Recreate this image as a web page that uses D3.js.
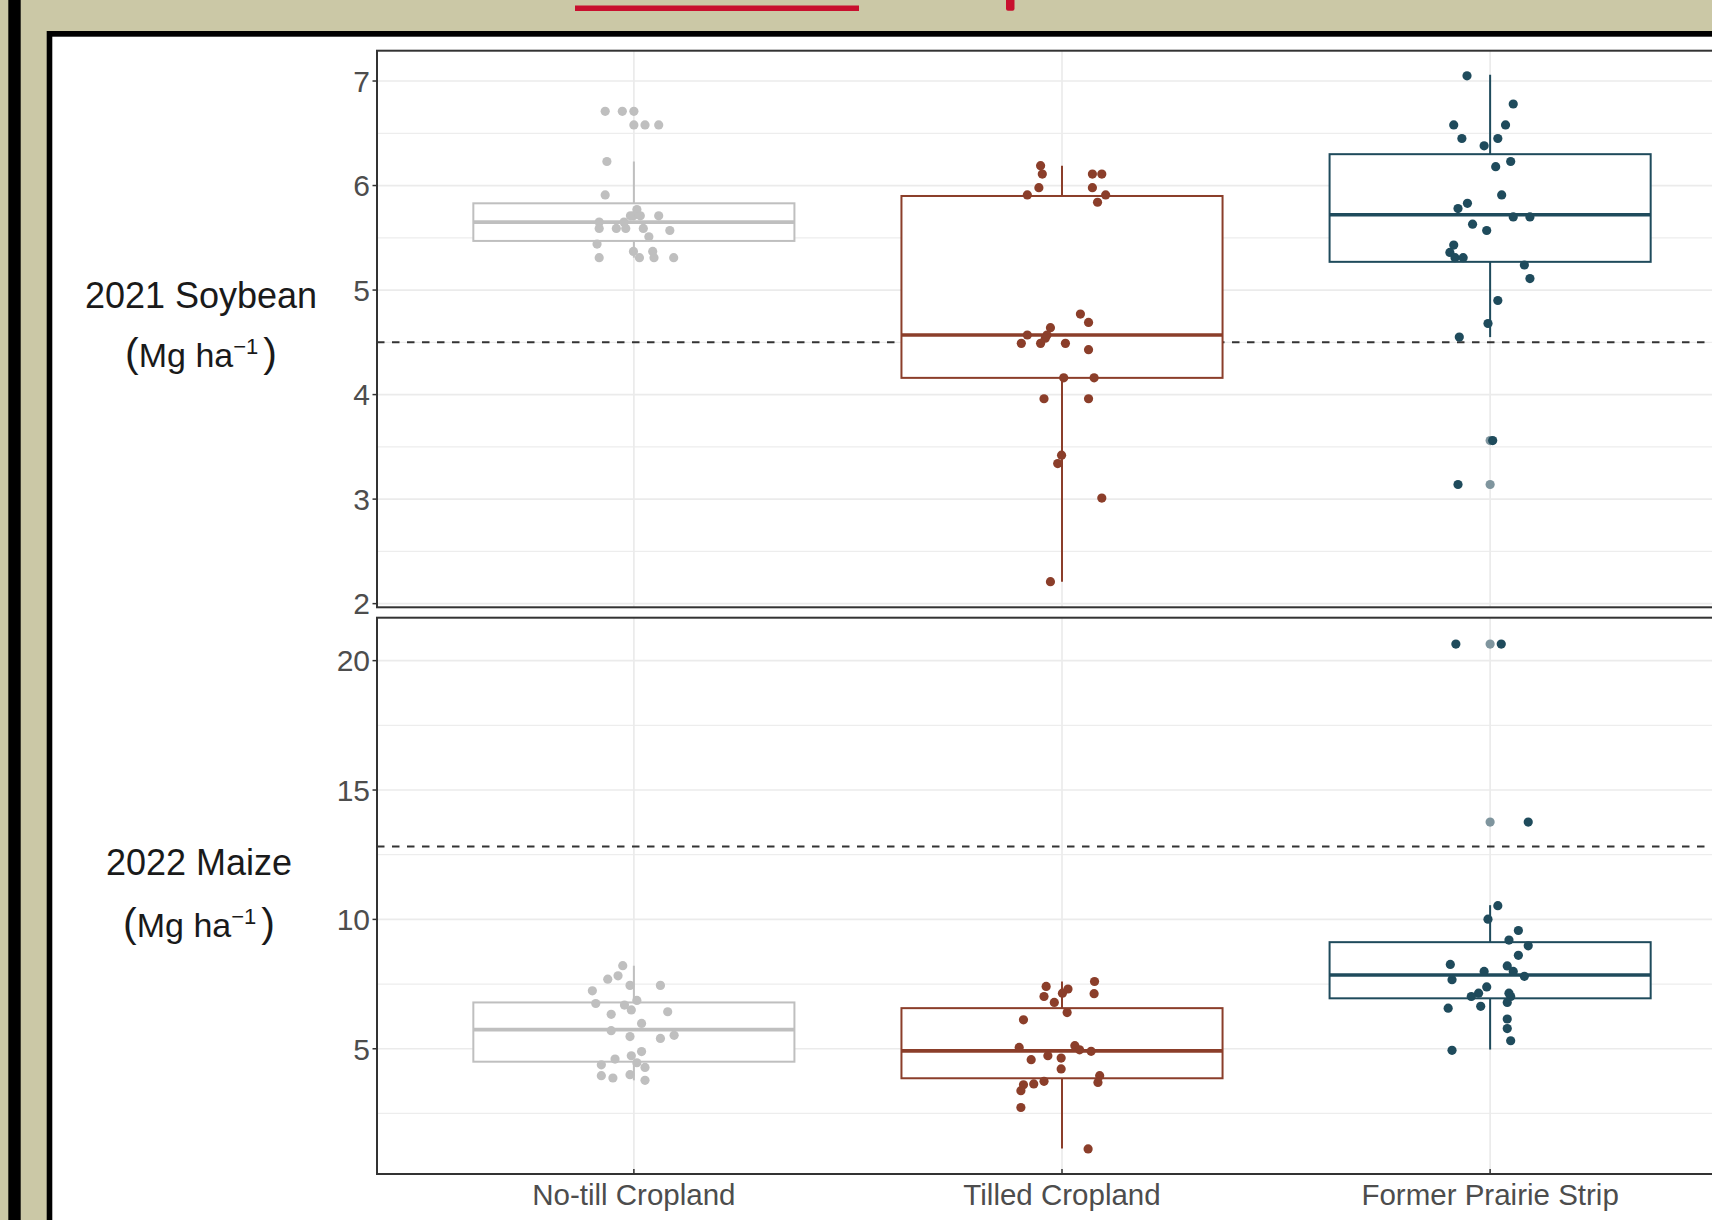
<!DOCTYPE html>
<html><head><meta charset="utf-8">
<script src="https://cdn.jsdelivr.net/npm/d3@7"></script>
<style>html,body{margin:0;padding:0;overflow:hidden;background:#CBC8A6}</style>
</head><body><svg id="c" width="1712" height="1220"></svg>
<script>
// ---------------- DATA ----------------
const categories = ["No-till Cropland", "Tilled Cropland", "Former Prairie Strip"];
const panelTitles = ["2021 Soybean", "2022 Maize"];

const soyTicks = [2, 3, 4, 5, 6, 7];
const soyMinor = [2.5, 3.5, 4.5, 5.5, 6.5];
const maizeTicks = [5, 10, 15, 20];
const maizeMinor = [2.5, 7.5, 12.5, 17.5];

const soyDomain = [1.965, 7.29];
const maizeDomain = [0.16, 21.66];

const soyReference = 4.50;
const maizeReference = 12.82;

// box statistics [No-till, Tilled, Prairie]
const soyQ1 = [5.47, 4.16, 5.27];
const soyMedian = [5.65, 4.57, 5.72];
const soyQ3 = [5.83, 5.90, 6.30];
const soyWhiskerLow = [5.31, 2.21, 4.55];
const soyWhiskerHigh = [6.23, 6.19, 7.06];
const soyOutliers = [[6.71, 6.58], [], [3.56, 3.14]];

const maizeQ1 = [4.50, 3.86, 6.95];
const maizeMedian = [5.74, 4.92, 7.85];
const maizeQ3 = [6.79, 6.57, 9.12];
const maizeWhiskerLow = [3.78, 1.15, 4.97];
const maizeWhiskerHigh = [8.21, 7.60, 10.55];
const maizeOutliers = [[], [], [20.64, 13.76]];

// observations (yield) and horizontal jitter (in category units)
const soyNoTillY =   [6.71, 6.71, 6.58, 6.58, 6.23, 5.91, 5.77, 5.71, 5.71, 5.71, 5.71, 5.65, 5.65, 5.59, 5.59, 5.59, 5.59, 5.57, 5.51, 5.44, 5.37, 5.37, 5.31, 5.31, 5.31, 5.31];
const soyNoTillJit = [-0.067, -0.027, 0.026, 0.058, -0.063, -0.067, 0.007, -0.001, -0.008, 0.015, 0.058, -0.081, -0.023, -0.081, -0.041, -0.019, 0.022, 0.084, 0.035, -0.086, -0.001, 0.044, -0.081, 0.013, 0.047, 0.093];

const soyTilledY =   [6.19, 6.11, 5.98, 5.91, 6.11, 6.11, 5.98, 5.91, 5.84, 4.77, 4.69, 4.64, 4.57, 4.57, 4.54, 4.49, 4.49, 4.49, 4.43, 4.16, 4.16, 3.96, 3.96, 3.42, 3.34, 3.01, 2.21];
const soyTilledJit = [-0.050, -0.046, -0.054, -0.081, 0.071, 0.093, 0.071, 0.102, 0.083, 0.043, 0.062, -0.027, -0.081, -0.035, -0.039, -0.095, -0.050, 0.008, 0.062, 0.004, 0.075, -0.042, 0.062, -0.001, -0.010, 0.093, -0.027];

const soyPrairieY =   [7.05, 6.78, 6.58, 6.58, 6.45, 6.45, 6.38, 6.23, 6.18, 5.91, 5.83, 5.78, 5.70, 5.70, 5.63, 5.57, 5.43, 5.36, 5.31, 5.31, 5.24, 5.11, 4.90, 4.68, 4.55, 3.56, 3.14];
const soyPrairieJit = [-0.054, 0.054, -0.085, 0.036, -0.066, 0.018, -0.014, 0.048, 0.013, 0.027, -0.053, -0.075, 0.054, 0.093, -0.041, -0.008, -0.085, -0.094, -0.082, -0.063, 0.080, 0.093, 0.018, -0.005, -0.072, 0.006, -0.075];

const maizeNoTillY =   [8.21, 7.82, 7.69, 7.45, 7.45, 7.24, 6.87, 6.75, 6.69, 6.50, 6.43, 6.33, 5.98, 5.70, 5.52, 5.47, 5.40, 4.89, 4.73, 4.60, 4.46, 4.38, 4.28, 3.96, 3.87, 4.00, 3.78];
const maizeNoTillJit = [-0.026, -0.037, -0.061, -0.009, 0.062, -0.097, 0.007, -0.089, -0.022, -0.006, 0.079, -0.053, 0.018, -0.053, 0.094, -0.009, 0.062, 0.018, -0.006, -0.044, 0.007, -0.076, 0.026, -0.076, -0.049, -0.009, 0.026];

const maizeTilledY =   [7.60, 7.41, 7.31, 7.15, 7.13, 7.02, 6.79, 6.40, 6.12, 5.05, 5.12, 4.96, 4.90, 4.73, 4.64, 4.58, 4.22, 3.96, 3.70, 3.74, 3.64, 3.61, 3.38, 2.73, 1.13];
const maizeTilledJit = [0.076, -0.037, 0.014, 0.001, 0.075, -0.042, -0.018, 0.012, -0.090, -0.100, 0.030, 0.041, 0.068, -0.033, -0.002, -0.072, -0.002, 0.088, 0.084, -0.042, -0.066, -0.090, -0.096, -0.096, 0.061];

const maizePrairieY =   [20.64, 20.64, 13.76, 10.53, 10.01, 9.57, 9.20, 8.98, 8.61, 8.26, 8.20, 7.99, 7.99, 7.67, 7.80, 7.39, 7.15, 7.02, 7.15, 7.02, 6.79, 6.57, 6.64, 6.15, 5.78, 5.31, 4.94];
const maizePrairieJit = [-0.080, 0.026, 0.089, 0.018, -0.005, 0.066, 0.044, 0.089, 0.066, -0.093, 0.040, -0.014, 0.054, -0.089, 0.080, -0.008, -0.027, -0.044, 0.044, 0.048, 0.040, -0.098, -0.022, 0.040, 0.040, 0.048, -0.089];

// ---------------- STYLE ----------------
const colors = ["#BFBFBF", "#8B3E2A", "#1F4B5C"];
const outlierColors = ["#BFBFBF", "#A56F60", "#7F959E"];
const FONT = "'Liberation Sans', Arial, sans-serif";

const svg = d3.select("#c");

// page decoration
svg.append("rect").attr("x", 0).attr("y", 0).attr("width", 1712).attr("height", 1220).attr("fill", "#CBC8A6");
svg.append("rect").attr("x", 8.3).attr("y", 0).attr("width", 12.4).attr("height", 1220).attr("fill", "#000");
svg.append("rect").attr("x", 575).attr("y", 5.5).attr("width", 284).attr("height", 5.5).attr("fill", "#C8102E");
svg.append("rect").attr("x", 1006).attr("y", -4).attr("width", 8.5).attr("height", 14.7).attr("rx", 2).attr("fill", "#C8102E");
svg.append("rect").attr("x", 46.7).attr("y", 31).attr("width", 2000).attr("height", 2000).attr("fill", "#000");
svg.append("rect").attr("x", 52.3).attr("y", 36.7).attr("width", 2000).attr("height", 2000).attr("fill", "#fff");

// scales
const x = d3.scalePoint().domain(categories).range([377, 1747]).padding(0.6);
const step = x.step();
const boxW = 0.75 * step;

const panels = [
  { title: panelTitles[0], top: 50.7, bottom: 607.3, domain: soyDomain, ticks: soyTicks, minor: soyMinor,
    ref: soyReference, q1: soyQ1, med: soyMedian, q3: soyQ3, lo: soyWhiskerLow, hi: soyWhiskerHigh, out: soyOutliers,
    pts: [[soyNoTillY, soyNoTillJit], [soyTilledY, soyTilledJit], [soyPrairieY, soyPrairieJit]],
    titleY: 308, unitY: 367, titleX: 201, xlabels: false },
  { title: panelTitles[1], top: 617.7, bottom: 1174, domain: maizeDomain, ticks: maizeTicks, minor: maizeMinor,
    ref: maizeReference, q1: maizeQ1, med: maizeMedian, q3: maizeQ3, lo: maizeWhiskerLow, hi: maizeWhiskerHigh, out: maizeOutliers,
    pts: [[maizeNoTillY, maizeNoTillJit], [maizeTilledY, maizeTilledJit], [maizePrairieY, maizePrairieJit]],
    titleY: 875, unitY: 937, titleX: 199, xlabels: true }
];

const L = 377, R = 1747;

panels.forEach(p => {
  const y = d3.scaleLinear().domain(p.domain).range([p.bottom, p.top]);
  const g = svg.append("g");

  // minor grid
  g.selectAll(".mg").data(p.minor).join("line")
    .attr("x1", L).attr("x2", R).attr("y1", d => y(d)).attr("y2", d => y(d))
    .attr("stroke", "#EDEDED").attr("stroke-width", 1.2);
  // major grid
  g.selectAll(".Mg").data(p.ticks).join("line")
    .attr("x1", L).attr("x2", R).attr("y1", d => y(d)).attr("y2", d => y(d))
    .attr("stroke", "#EBEBEB").attr("stroke-width", 1.7);
  // vertical grid
  g.selectAll(".vg").data(categories).join("line")
    .attr("x1", d => x(d)).attr("x2", d => x(d)).attr("y1", p.top).attr("y2", p.bottom)
    .attr("stroke", "#EBEBEB").attr("stroke-width", 1.7);

  // reference dashed line
  g.append("line").attr("x1", L).attr("x2", R).attr("y1", y(p.ref)).attr("y2", y(p.ref))
    .attr("stroke", "#333").attr("stroke-width", 2).attr("stroke-dasharray", "7.5,7.5");

  // boxplots
  categories.forEach((c, i) => {
    const cx = x(c);
    const col = colors[i];
    g.append("line").attr("x1", cx).attr("x2", cx).attr("y1", y(p.q3[i])).attr("y2", y(p.hi[i]))
      .attr("stroke", col).attr("stroke-width", 2);
    g.append("line").attr("x1", cx).attr("x2", cx).attr("y1", y(p.q1[i])).attr("y2", y(p.lo[i]))
      .attr("stroke", col).attr("stroke-width", 2);
    g.append("rect").attr("x", cx - boxW / 2).attr("y", y(p.q3[i])).attr("width", boxW)
      .attr("height", y(p.q1[i]) - y(p.q3[i])).attr("fill", "#fff").attr("stroke", col).attr("stroke-width", 2);
    g.append("line").attr("x1", cx - boxW / 2).attr("x2", cx + boxW / 2).attr("y1", y(p.med[i])).attr("y2", y(p.med[i]))
      .attr("stroke", col).attr("stroke-width", 3.6);
    // outliers
    g.selectAll(null).data(p.out[i]).join("circle")
      .attr("cx", cx).attr("cy", d => y(d)).attr("r", 4.6).attr("fill", outlierColors[i]);
  });

  // jittered points
  categories.forEach((c, i) => {
    const [vals, jit] = p.pts[i];
    g.selectAll(null).data(vals.map((v, k) => [v, jit[k]])).join("circle")
      .attr("cx", d => x(c) + d[1] * step).attr("cy", d => y(d[0])).attr("r", 4.6).attr("fill", colors[i]);
  });

  // panel border
  g.append("rect").attr("x", L).attr("y", p.top).attr("width", R - L).attr("height", p.bottom - p.top)
    .attr("fill", "none").attr("stroke", "#333").attr("stroke-width", 2);

  // y ticks
  g.selectAll(".yt").data(p.ticks).join("line")
    .attr("x1", L - 4.5).attr("x2", L).attr("y1", d => y(d)).attr("y2", d => y(d))
    .attr("stroke", "#333").attr("stroke-width", 1.5);
  g.selectAll(".yl").data(p.ticks).join("text")
    .attr("x", L - 7).attr("y", d => y(d)).attr("dy", "0.36em")
    .attr("text-anchor", "end").attr("font-family", FONT).attr("font-size", 30).attr("fill", "#4D4D4D")
    .text(d => d);

  // x ticks & labels
  if (p.xlabels) {
    g.selectAll(".xt").data(categories).join("line")
      .attr("x1", d => x(d)).attr("x2", d => x(d)).attr("y1", p.bottom).attr("y2", p.bottom - 5)
      .attr("stroke", "#333").attr("stroke-width", 1.5);
    g.selectAll(".xl").data(categories).join("text")
      .attr("x", d => x(d)).attr("y", 1205)
      .attr("text-anchor", "middle").attr("font-family", FONT).attr("font-size", 29.5).attr("fill", "#4D4D4D")
      .text(d => d);
  }

  // panel titles
  g.append("text").attr("x", p.titleX).attr("y", p.titleY).attr("text-anchor", "middle")
    .attr("font-family", FONT).attr("font-size", 36).attr("fill", "#1A1A1A").text(p.title);
  const u = g.append("text").attr("x", p.titleX).attr("y", p.unitY).attr("text-anchor", "middle")
    .attr("font-family", FONT).attr("fill", "#1A1A1A");
  u.append("tspan").attr("font-size", 41).text("(");
  u.append("tspan").attr("font-size", 34).text("Mg ha");
  u.append("tspan").attr("font-size", 22).attr("dy", -13).text("\u22121");
  u.append("tspan").attr("font-size", 41).attr("dy", 13).attr("dx", 5).text(")");
});
</script>
</body></html>
